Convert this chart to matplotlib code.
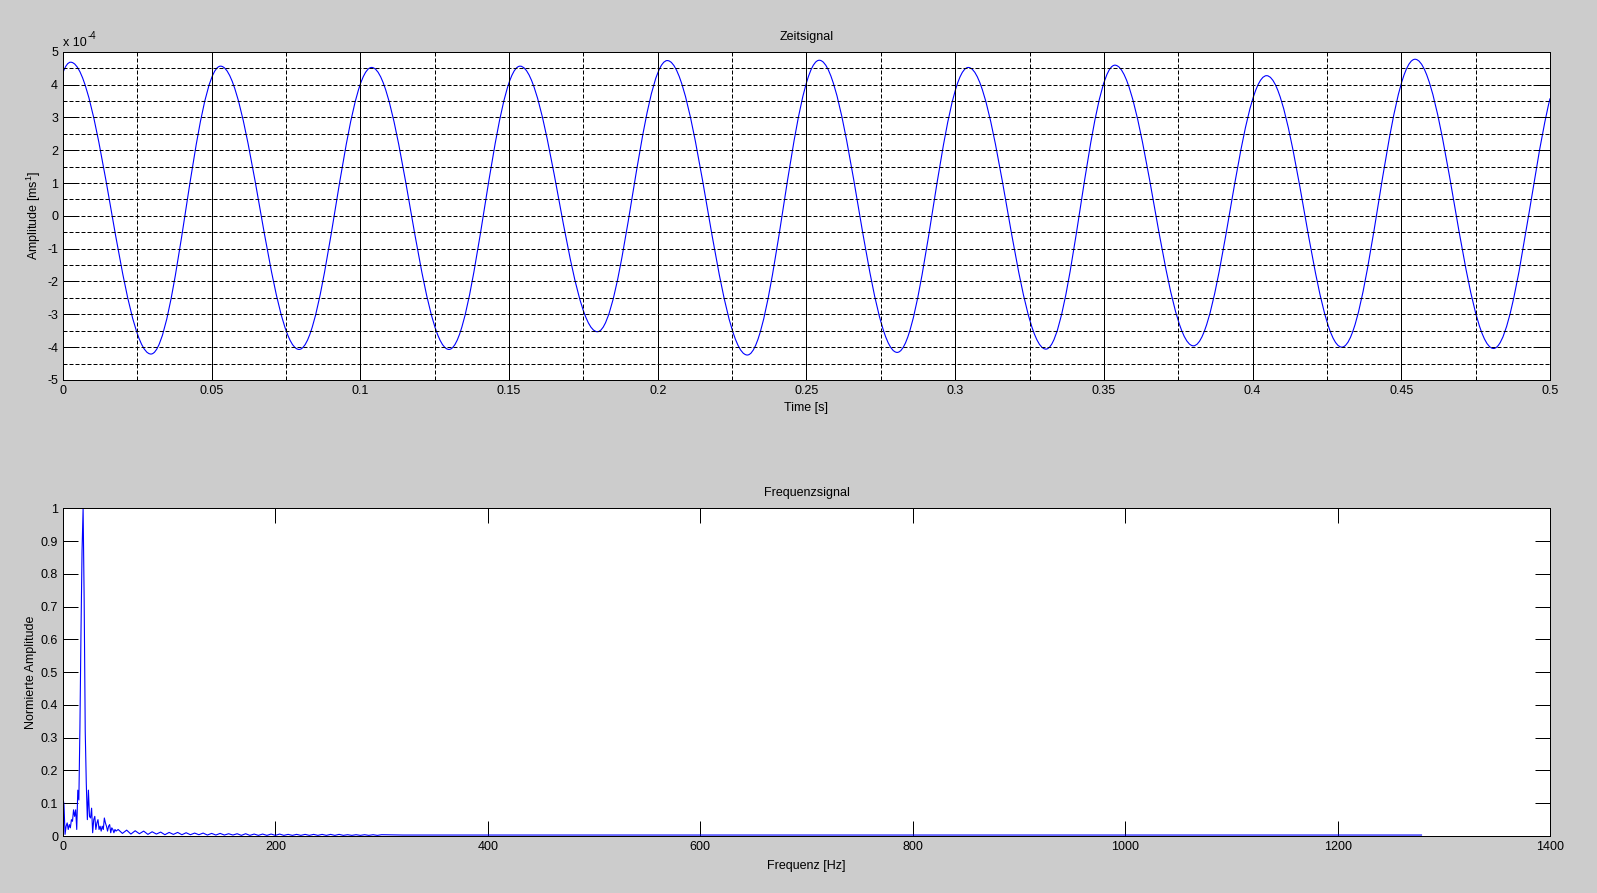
import numpy as np
import matplotlib
matplotlib.use('Agg')
import matplotlib.pyplot as plt
from matplotlib.path import Path
from matplotlib.patches import PathPatch
from matplotlib.ticker import MultipleLocator, FuncFormatter

plt.rcParams['font.family'] = ['Liberation Sans', 'DejaVu Sans']
plt.rcParams['mathtext.default'] = 'regular'

# Zeitsignal: Extremwerte der Schwingung (Zeit in s, Amplitude in 1e-4 m/s)
peakTimes = [0.0026, 0.0530, 0.1038, 0.1537, 0.2032, 0.2543, 0.3044, 0.3537, 0.4047, 0.4546]
peakValues = [4.68, 4.56, 4.52, 4.56, 4.73, 4.74, 4.52, 4.59, 4.27, 4.77]
troughTimes = [0.0296, 0.0794, 0.1298, 0.1797, 0.2301, 0.2805, 0.3305, 0.3801, 0.4300, 0.4810]
troughValues = [-4.21, -4.07, -4.07, -3.53, -4.24, -4.16, -4.06, -3.96, -4.00, -4.04]
startValue = 4.36   # bei t = 0
endValue = 3.58     # bei t = 0.5
startSlope = 240.0  # Steigung am Rand, 1e-4 pro s
endSlope = 370.0

# Frequenzsignal: normierte Amplitude, 1-Hz-Raster bis 50 Hz
lowFreqs = np.arange(0, 51)
lowAmps = [0.12, 0.095, 0.005, 0.03, 0.04, 0.02, 0.035, 0.025, 0.05, 0.045,
           0.08, 0.06, 0.08, 0.02, 0.14, 0.11, 0.33, 0.62, 0.87, 1.0,
           0.72, 0.32, 0.16, 0.05, 0.14, 0.06, 0.055, 0.085, 0.01, 0.05,
           0.06, 0.02, 0.04, 0.05, 0.02, 0.03, 0.015, 0.03, 0.02, 0.055,
           0.04, 0.03, 0.015, 0.03, 0.035, 0.01, 0.025, 0.02, 0.01, 0.02,
           0.015]
# Auslauf 52..300 Hz (4-Hz-Schritte)
tailFreqs = np.arange(52, 301, 4)
tailAmps = [0.02, 0.008, 0.018, 0.006, 0.016, 0.007, 0.015, 0.005, 0.013, 0.006, 0.012, 0.004, 0.011,
            0.005, 0.011, 0.004, 0.010, 0.004, 0.009, 0.004, 0.009, 0.003, 0.008, 0.003, 0.008,
            0.003, 0.007, 0.003, 0.007, 0.002, 0.007, 0.002, 0.006, 0.002, 0.006, 0.002, 0.006, 0.002,
            0.006, 0.002, 0.005, 0.002, 0.005, 0.002, 0.005, 0.002, 0.005, 0.002, 0.005, 0.002, 0.005,
            0.002, 0.005, 0.002, 0.004, 0.002, 0.004, 0.002, 0.004, 0.002, 0.004, 0.002, 0.004]
farFreqs = [320, 400, 500, 600, 700, 800, 900, 1000, 1100, 1200, 1279]
farAmps = [0.003, 0.003, 0.003, 0.003, 0.003, 0.003, 0.003, 0.003, 0.003, 0.003, 0.003]


def smoothPath(knotT, knotV, slopes, handle=0.364):
    # Bezier-Kurve durch die Stuetzpunkte, Extrema mit waagrechter Tangente
    verts = [(knotT[0], knotV[0])]
    codes = [Path.MOVETO]
    for i in range(len(knotT) - 1):
        t0, t1 = knotT[i], knotT[i + 1]
        v0, v1 = knotV[i], knotV[i + 1]
        dt = t1 - t0
        h0 = handle if slopes[i] == 0 else 1 / 3
        h1 = handle if slopes[i + 1] == 0 else 1 / 3
        verts += [(t0 + h0 * dt, v0 + slopes[i] * h0 * dt),
                  (t1 - h1 * dt, v1 - slopes[i + 1] * h1 * dt),
                  (t1, v1)]
        codes += [Path.CURVE4] * 3
    return Path(verts, codes)


knotT = [0.0]
knotV = [startValue]
for pt, pv, tt, tv in zip(peakTimes, peakValues, troughTimes, troughValues):
    knotT += [pt, tt]
    knotV += [pv, tv]
knotT.append(0.5)
knotV.append(endValue)
slopes = [startSlope] + [0.0] * (len(knotT) - 2) + [endSlope]
scale = 1e-4
timePath = smoothPath(knotT, [v * scale for v in knotV], [s * scale for s in slopes])

fig = plt.figure(figsize=(15.97, 8.93), dpi=100, facecolor='#cccccc')
px = 0.72  # ein Pixel in pt

# ---- Zeitsignal ----
ax1 = fig.add_axes([0.0394, 0.5745, 0.9312, 0.3676])
ax1.add_patch(PathPatch(timePath, facecolor='none', edgecolor='blue', lw=0.8))
ax1.set_xlim(0, 0.5)
ax1.set_ylim(-5e-4, 5e-4)
ax1.xaxis.set_major_locator(MultipleLocator(0.05))
ax1.xaxis.set_minor_locator(MultipleLocator(0.025))
ax1.yaxis.set_major_locator(MultipleLocator(1e-4))
ax1.yaxis.set_minor_locator(MultipleLocator(0.5e-4))
ax1.xaxis.set_major_formatter(FuncFormatter(lambda v, p: f'{round(v, 3):g}'))
ax1.yaxis.set_major_formatter(FuncFormatter(lambda v, p: f'{int(round(v / scale))}'))
ax1.grid(which='major', axis='x', color='black', ls='-', lw=px)
ax1.grid(which='minor', axis='x', color='black', ls=(0, (4, 2)), lw=px)
ax1.grid(which='both', axis='y', color='black', ls=(0, (4, 2)), lw=px)
ax1.set_title('Zeitsignal', fontsize=9, pad=8.5)
ax1.set_xlabel('Time [s]', fontsize=9, labelpad=4)
ax1.set_ylabel('Amplitude [ms$^{1}$]', fontsize=9, labelpad=3)
baseText = ax1.text(0.0, 1.008, 'x 10', transform=ax1.transAxes, fontsize=9,
                    va='bottom', ha='left')
ax1.annotate('-4', xy=(1, 1), xycoords=baseText, xytext=(0.8, -2.5),
             textcoords='offset points', fontsize=7, va='bottom', ha='left')

# ---- Frequenzsignal ----
ax2 = fig.add_axes([0.0394, 0.0638, 0.9312, 0.367])
freqs = np.concatenate([lowFreqs, tailFreqs, farFreqs])
amps = np.concatenate([lowAmps, tailAmps, farAmps])
ax2.plot(freqs, amps, color='blue', lw=0.8)
ax2.set_xlim(0, 1400)
ax2.set_ylim(0, 1)
ax2.xaxis.set_major_locator(MultipleLocator(200))
ax2.yaxis.set_major_locator(MultipleLocator(0.1))
ax2.xaxis.set_major_formatter(FuncFormatter(lambda v, p: f'{v:g}'))
ax2.yaxis.set_major_formatter(FuncFormatter(lambda v, p: f'{round(v, 1):g}'))
ax2.set_title('Frequenzsignal', fontsize=9, pad=8.5)
ax2.set_xlabel('Frequenz [Hz]', fontsize=9, labelpad=5)
ax2.set_ylabel('Normierte Amplitude', fontsize=9, labelpad=3)

for ax in (ax1, ax2):
    ax.set_facecolor('white')
    for sp in ax.spines.values():
        sp.set_linewidth(px)
        sp.set_color('black')
    ax.tick_params(which='major', direction='in', length=10.8, width=px,
                   top=True, right=True, labelsize=9, pad=3.5, colors='black')
    ax.tick_params(which='minor', length=0)

fig.savefig('out.png', dpi=100, facecolor=fig.get_facecolor())
